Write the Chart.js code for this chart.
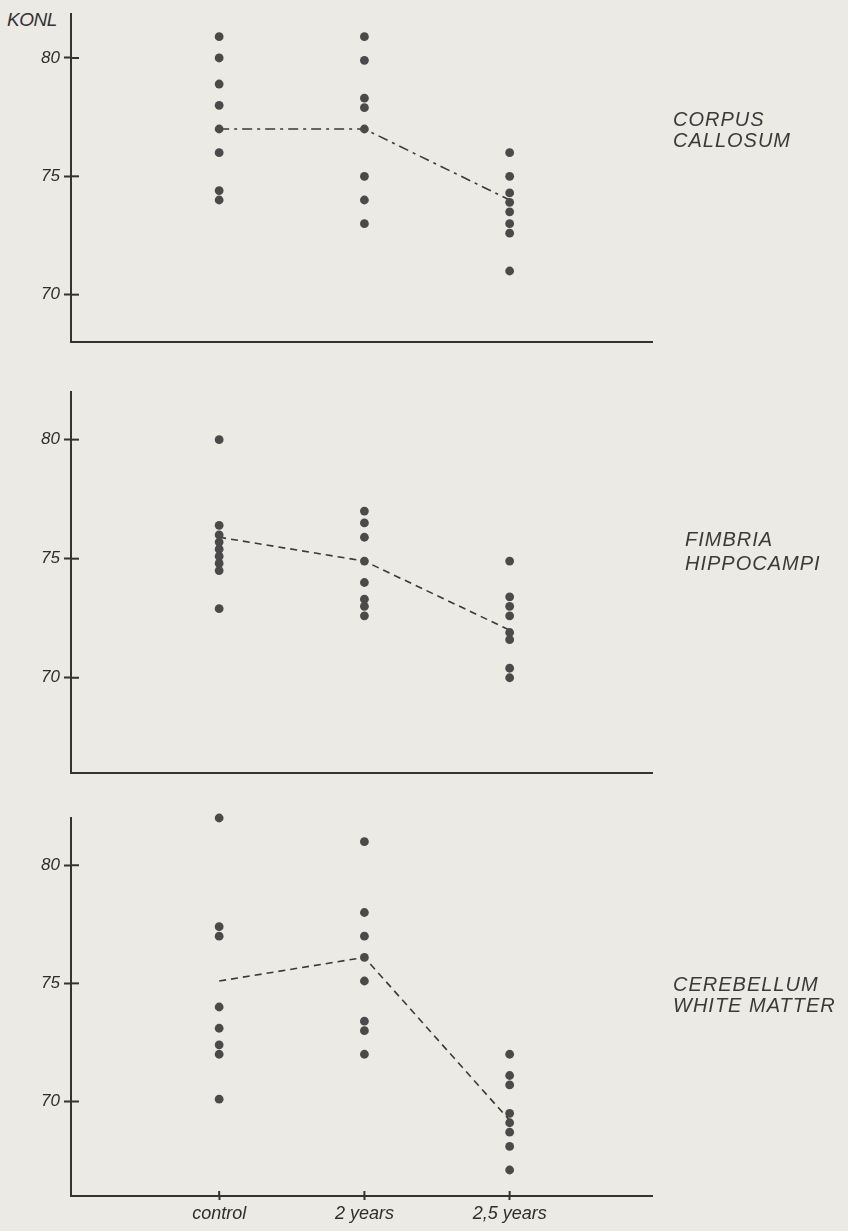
<!DOCTYPE html>
<html>
<head>
<meta charset="utf-8">
<script src="https://cdn.jsdelivr.net/npm/chart.js@4.4.0/dist/chart.umd.min.js"></script>
<style>
  body { margin: 0; background: #ebeae5; width: 848px; height: 1231px; overflow: hidden; position: relative; font-family: "Liberation Sans", sans-serif; }
  .panel { position: absolute; left: 0; }
  .region { position: absolute; font-style: italic; font-size: 20px; line-height: 21px; letter-spacing: 1px; color: #3a3a3a; }
  #unit { position: absolute; left: 7px; top: 9px; font-style: italic; font-size: 19px; color: #333; letter-spacing: -0.5px; }
</style>
</head>
<body>
<div id="unit">KONL</div>
<div class="panel" style="top:0"><canvas id="c1" width="848" height="360"></canvas></div>
<div class="panel" style="top:370px"><canvas id="c2" width="848" height="420"></canvas></div>
<div class="panel" style="top:790px"><canvas id="c3" width="848" height="441"></canvas></div>
<div class="region" style="left:673px;top:109px">CORPUS<br>CALLOSUM</div>
<div class="region" style="left:685px;top:527px;line-height:24px">FIMBRIA<br>HIPPOCAMPI</div>
<div class="region" style="left:673px;top:974px">CEREBELLUM<br>WHITE MATTER</div>

<script>
const groups = ["control", "2 years", "2,5 years"];
const yTicks = [70, 75, 80];

// corpus callosum
const corpusControl = [80.9, 80.0, 78.9, 78.0, 77.0, 76.0, 74.4, 74.0];
const corpus2y = [80.9, 79.9, 78.3, 77.9, 77.0, 75.0, 74.0, 73.0];
const corpus25y = [76.0, 75.0, 74.3, 73.9, 73.5, 73.0, 72.6, 71.0];
const corpusMean = [77.0, 77.0, 74.0];

// fimbria hippocampi
const fimbriaControl = [80.0, 76.4, 76.0, 75.7, 75.4, 75.1, 74.8, 74.5, 72.9];
const fimbria2y = [77.0, 76.5, 75.9, 74.9, 74.0, 73.3, 73.0, 72.6];
const fimbria25y = [74.9, 73.4, 73.0, 72.6, 71.9, 71.6, 70.4, 70.0];
const fimbriaMean = [75.9, 74.9, 72.0];

// cerebellum white matter
const cerebControl = [82.0, 77.4, 77.0, 74.0, 73.1, 72.4, 72.0, 70.1];
const cereb2y = [81.0, 78.0, 77.0, 76.1, 75.1, 73.4, 73.0, 72.0];
const cereb25y = [72.0, 71.1, 70.7, 69.5, 69.1, 68.7, 68.1, 67.1];
const cerebMean = [75.1, 76.1, 69.2];

const ink = "#333333";
const dotColor = "#4a4a4a";

// draws the inner half of the tick marks so they cross the axis
const crossTicks = {
    id: "crossTicks",
    afterDraw(chart, args, opts) {
        const ctx = chart.ctx;
        const a = chart.chartArea;
        ctx.save();
        ctx.strokeStyle = ink;
        ctx.lineWidth = 2;
        const ys = chart.scales.y;
        yTicks.forEach(v => {
            const p = ys.getPixelForValue(v);
            ctx.beginPath();
            ctx.moveTo(a.left, p);
            ctx.lineTo(a.left + 8, p);
            ctx.stroke();
        });
        if (opts.xTicks) {
            const xs = chart.scales.x;
            [0, 1, 2].forEach(v => {
                const p = xs.getPixelForValue(v);
                ctx.beginPath();
                ctx.moveTo(p, a.bottom);
                ctx.lineTo(p, a.bottom - 5);
                ctx.stroke();
            });
        }
        ctx.restore();
    }
};

function pts(values, i) {
    return values.map(v => ({ x: i, y: v }));
}

function makeChart(id, cols, mean, dash, yMin, yMax, padTop, xHeight, showX) {
    const datasets = cols.map((vals, i) => ({
        type: "scatter",
        data: pts(vals, i),
        backgroundColor: dotColor,
        borderColor: dotColor,
        pointRadius: 4.4,
        borderWidth: 0,
        clip: false
    }));
    datasets.push({
        type: "line",
        data: mean.map((v, i) => ({ x: i, y: v })),
        borderColor: "#3a3a3a",
        borderWidth: 1.6,
        borderDash: dash,
        pointRadius: 0,
        fill: false,
        tension: 0
    });
    return new Chart(document.getElementById(id), {
        type: "scatter",
        data: { datasets: datasets },
        plugins: [crossTicks],
        options: {
            responsive: false,
            animation: false,
            layout: { padding: { top: padTop, right: 196, left: 0, bottom: 0 } },
            plugins: {
                legend: { display: false },
                tooltip: { enabled: false },
                crossTicks: { xTicks: showX }
            },
            scales: {
                x: {
                    type: "linear",
                    min: -1.02,
                    max: 2.98,
                    afterBuildTicks: s => { s.ticks = [0, 1, 2].map(v => ({ value: v })); },
                    afterFit: s => { s.height = xHeight; },
                    border: { display: true, color: ink, width: 2 },
                    grid: { display: showX, drawOnChartArea: false, drawTicks: true, tickLength: 4, tickColor: ink, tickWidth: 2 },
                    ticks: {
                        display: showX,
                        padding: 3,
                        color: "#2e2e2e",
                        font: { family: "Liberation Sans", size: 18, style: "italic" },
                        callback: v => groups[v]
                    }
                },
                y: {
                    min: yMin,
                    max: yMax,
                    afterBuildTicks: s => { s.ticks = yTicks.map(v => ({ value: v })); },
                    afterFit: s => { s.width = 71; },
                    border: { display: true, color: ink, width: 2 },
                    grid: { drawOnChartArea: false, drawTicks: true, tickLength: 7, tickColor: ink, tickWidth: 2 },
                    ticks: {
                        padding: 4,
                        color: "#2e2e2e",
                        font: { family: "Liberation Sans", size: 17, style: "italic" }
                    }
                }
            }
        }
    });
}

makeChart("c1", [corpusControl, corpus2y, corpus25y], corpusMean, [10, 5, 3, 5], 68, 81.85, 10, 18, false);
makeChart("c2", [fimbriaControl, fimbria2y, fimbria25y], fimbriaMean, [7, 5], 66, 82, 22, 17, false);
makeChart("c3", [cerebControl, cereb2y, cereb25y], cerebMean, [7, 5], 66, 82, 28, 35, true);
</script>
</body>
</html>
